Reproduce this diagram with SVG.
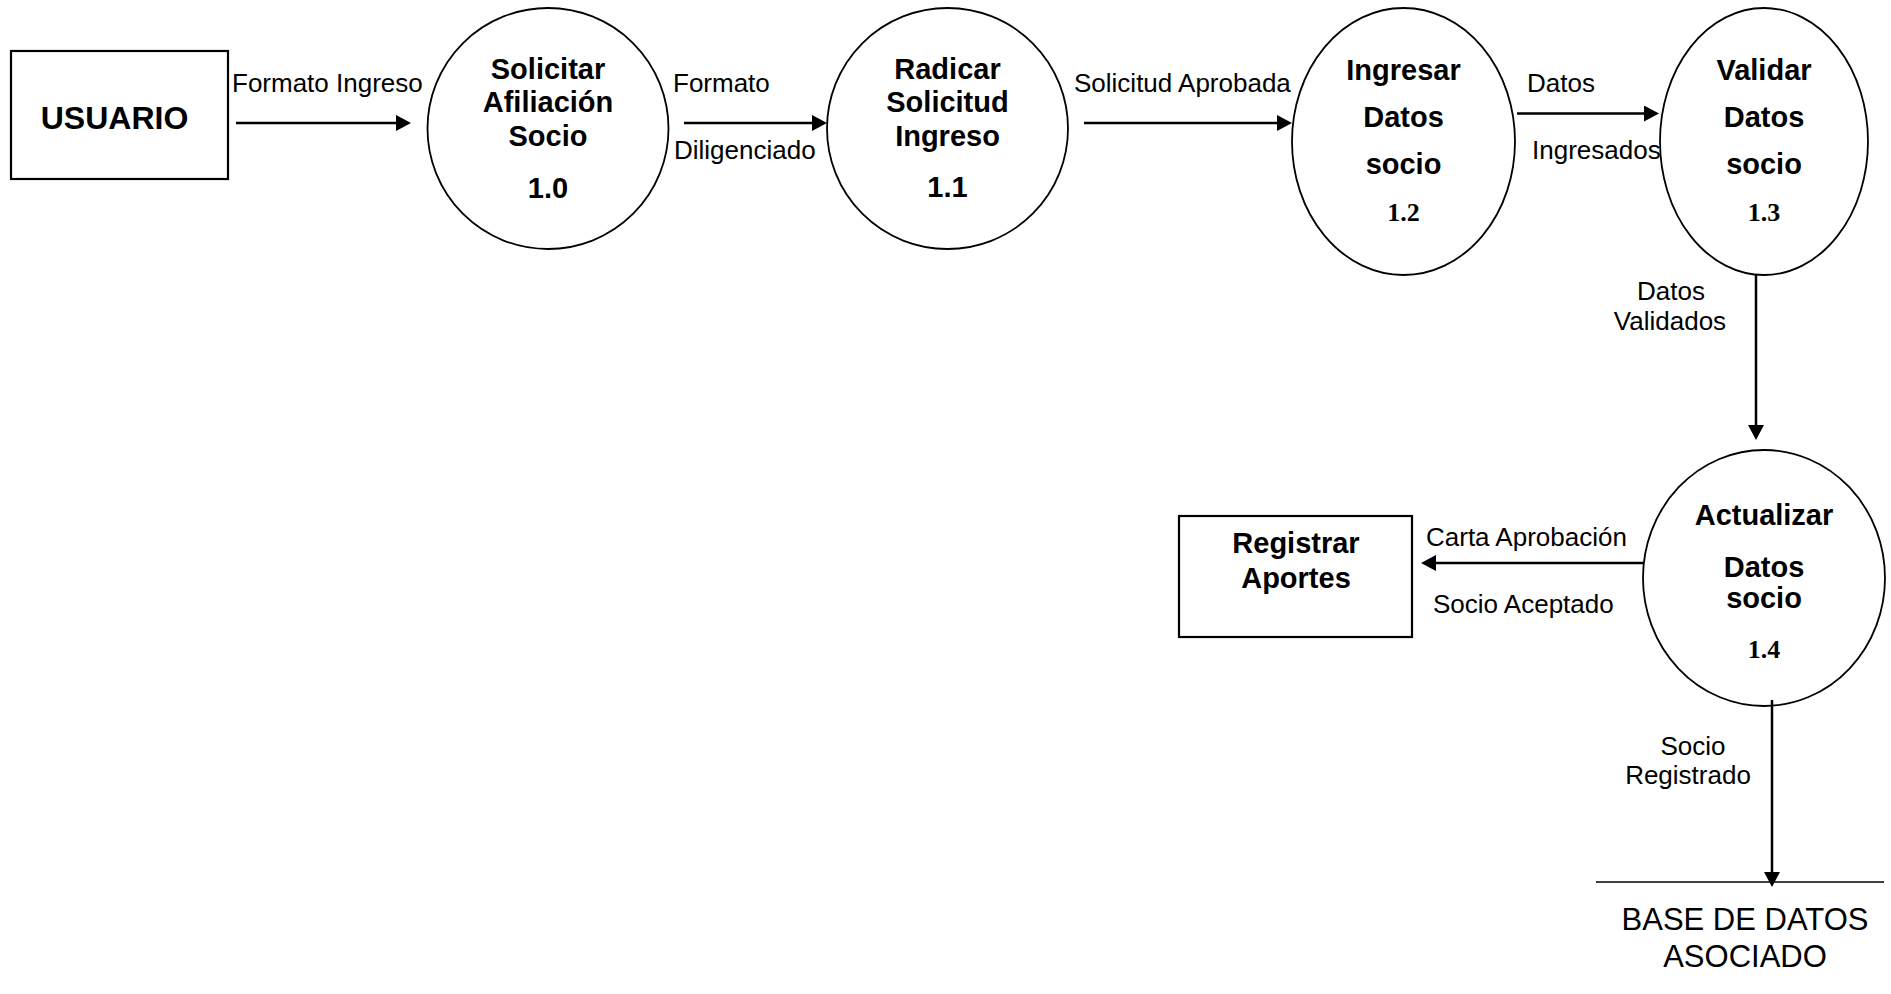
<svg xmlns="http://www.w3.org/2000/svg" width="1891" height="994" viewBox="0 0 1891 994">
<style>
.bg{fill:#fff}
.proc{fill:#fff;stroke:#000;stroke-width:1.8}
.ent{fill:#fff;stroke:#000;stroke-width:2.2}
.t{font-family:"Liberation Sans",Arial,sans-serif;font-weight:bold;font-size:29px;fill:#000;text-anchor:middle}
.tn{font-family:"Liberation Serif","Times New Roman",serif;font-weight:bold;font-size:26px;fill:#000;text-anchor:middle}
.lbl{font-family:"Liberation Sans",Arial,sans-serif;font-size:26px;fill:#000}
.mid{text-anchor:middle}
.flow{stroke:#000;stroke-width:2.5;fill:none;marker-end:url(#ah)}
.store{stroke:#000;stroke-width:1.6}
</style>
<defs>
<marker id="ah" markerUnits="userSpaceOnUse" markerWidth="16" markerHeight="17" refX="5" refY="8" orient="auto">
<path d="M0,0 L15,8 L0,16 z" fill="#000"/>
</marker>
</defs>
<rect class="bg" x="0" y="0" width="1891" height="994"/>

<g id="usuario">
<rect class="ent" x="11" y="51" width="217" height="128"/>
<text class="t" x="114.5" y="129" style="font-size:32px">USUARIO</text>
</g>

<g id="p10">
<circle class="proc" cx="548" cy="128.5" r="120.5"/>
<text class="t" x="548" y="79">Solicitar</text>
<text class="t" x="548" y="112">Afiliación</text>
<text class="t" x="548" y="146">Socio</text>
<text class="t" x="548" y="198">1.0</text>
</g>

<g id="p11">
<circle class="proc" cx="947.5" cy="128.5" r="120.5"/>
<text class="t" x="947.5" y="79">Radicar</text>
<text class="t" x="947.5" y="112">Solicitud</text>
<text class="t" x="947.5" y="146">Ingreso</text>
<text class="t" x="947.5" y="197">1.1</text>
</g>

<g id="p12">
<ellipse class="proc" cx="1403.5" cy="141.5" rx="111.5" ry="133.5"/>
<text class="t" x="1403.5" y="80">Ingresar</text>
<text class="t" x="1403.5" y="127">Datos</text>
<text class="t" x="1403.5" y="174">socio</text>
<text class="tn" x="1403.5" y="221">1.2</text>
</g>

<g id="p13">
<ellipse class="proc" cx="1764" cy="141.5" rx="104" ry="133.5"/>
<text class="t" x="1764" y="80">Validar</text>
<text class="t" x="1764" y="127">Datos</text>
<text class="t" x="1764" y="174">socio</text>
<text class="tn" x="1764" y="221">1.3</text>
</g>

<g id="p14">
<ellipse class="proc" cx="1764" cy="578" rx="121" ry="128"/>
<text class="t" x="1764" y="525">Actualizar</text>
<text class="t" x="1764" y="577">Datos</text>
<text class="t" x="1764" y="608">socio</text>
<text class="tn" x="1764" y="658">1.4</text>
</g>

<g id="registrar">
<rect class="ent" x="1179" y="516" width="233" height="121"/>
<text class="t" x="1296" y="553">Registrar</text>
<text class="t" x="1296" y="588">Aportes</text>
</g>

<g id="basedatos">
<line class="store" x1="1596" y1="882" x2="1884" y2="882"/>
<text class="lbl mid" x="1745" y="930" style="font-size:31px">BASE DE DATOS</text>
<text class="lbl mid" x="1745" y="967" style="font-size:31px">ASOCIADO</text>
</g>

<g id="connectors">
<line class="flow" x1="236" y1="123" x2="401" y2="123"/>
<text class="lbl" x="232" y="92">Formato Ingreso</text>

<line class="flow" x1="684" y1="123" x2="817" y2="123"/>
<text class="lbl" x="673" y="92">Formato</text>
<text class="lbl" x="674" y="159">Diligenciado</text>

<line class="flow" x1="1084" y1="123" x2="1282" y2="123"/>
<text class="lbl" x="1074" y="92">Solicitud Aprobada</text>

<line class="flow" x1="1517" y1="113.5" x2="1649" y2="113.5"/>
<text class="lbl" x="1527" y="92">Datos</text>
<text class="lbl" x="1532" y="159">Ingresados</text>

<line class="flow" x1="1756" y1="275" x2="1756" y2="430"/>
<text class="lbl mid" x="1671" y="300">Datos</text>
<text class="lbl mid" x="1670" y="330">Validados</text>

<line class="flow" x1="1643" y1="563" x2="1431" y2="563"/>
<text class="lbl" x="1426" y="546">Carta Aprobación</text>
<text class="lbl" x="1433" y="613">Socio Aceptado</text>

<line class="flow" x1="1772" y1="700" x2="1772" y2="877"/>
<text class="lbl mid" x="1693" y="755">Socio</text>
<text class="lbl mid" x="1688" y="784">Registrado</text>
</g>
</svg>
